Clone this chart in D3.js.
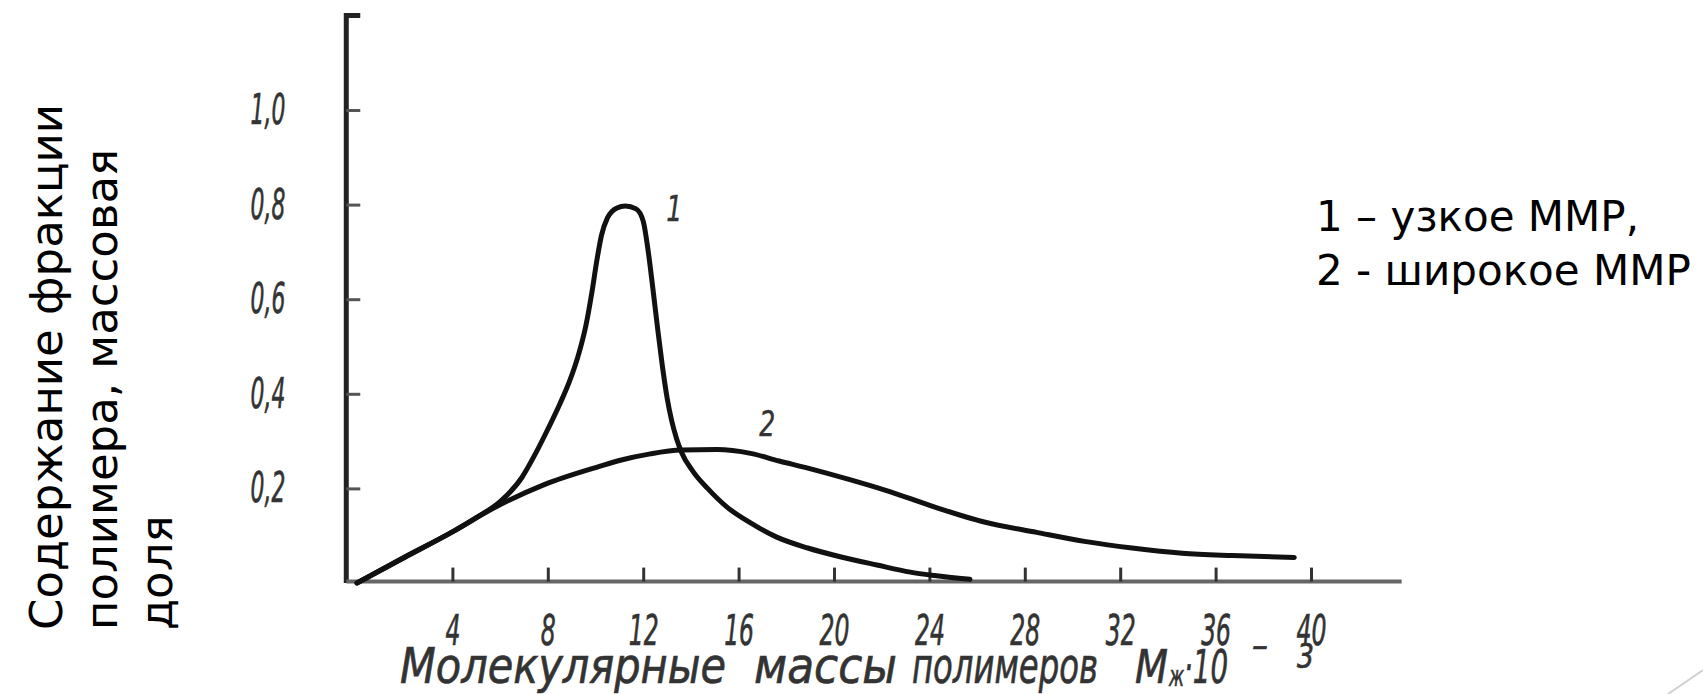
<!DOCTYPE html>
<html>
<head>
<meta charset="utf-8">
<script src="https://cdn.jsdelivr.net/npm/d3@7"></script>
<style>
  body { margin: 0; background: #fff; }
  svg { display: block; }
</style>
</head>
<body>
<svg id="chart" width="1703" height="694"></svg>
<script>
// curve 1 - narrow MWD (x: M*10^-3, y: mass fraction)
const narrowX = [0, 2, 4, 5, 6, 6.9, 7.5, 8.0, 8.5, 8.9, 9.3, 9.6, 9.85, 10.05, 10.25, 10.5, 10.9, 11.25, 11.7, 12.0, 12.2, 12.4, 12.6, 12.8, 13.0, 13.2, 13.4, 13.6, 14.1, 14.7, 15.5, 16.5, 17.6, 18.9, 20.3, 21.8, 23.2, 24.2, 25.7];
const narrowY = [0, 0.055, 0.108, 0.138, 0.172, 0.222, 0.275, 0.325, 0.378, 0.425, 0.485, 0.545, 0.615, 0.68, 0.735, 0.772, 0.793, 0.797, 0.791, 0.765, 0.705, 0.625, 0.54, 0.46, 0.392, 0.342, 0.305, 0.277, 0.235, 0.2, 0.161, 0.127, 0.097, 0.074, 0.055, 0.038, 0.023, 0.016, 0.008];

// curve 2 - broad MWD
const broadX = [0, 2, 4, 5.75, 7.8, 10.2, 11.0, 12.3, 13.6, 15.1, 16.5, 17.7, 18.9, 20.7, 22.1, 24.2, 26.3, 28.5, 30.5, 32.5, 34.6, 36.7, 39.3];
const broadY = [0, 0.054, 0.108, 0.159, 0.207, 0.247, 0.259, 0.273, 0.281, 0.282, 0.274, 0.258, 0.243, 0.218, 0.197, 0.161, 0.129, 0.107, 0.088, 0.074, 0.063, 0.058, 0.054];

const xTicks = [4, 8, 12, 16, 20, 24, 28, 32, 36, 40];
const yTicks = [0.2, 0.4, 0.6, 0.8, 1.0];
const yTitleLines = ["Содержание фракции", "полимера, массовая", "доля"];
const legendLines = ["1 – узкое ММР,", "2 - широкое ММР"];
const curveLabels = [
    { text: "1", x: 13.3, y: 0.765 },
    { text: "2", x: 17.2, y: 0.31 }
];
// x axis title pieces: text, left x, baseline y, font size, width
const xTitleParts = [
    { text: "Молекулярные", x: 400, y: 683, size: 50, w: 326 },
    { text: "массы", x: 754, y: 683, size: 50, w: 143 },
    { text: "полимеров", x: 912, y: 683, size: 50, w: 186 },
    { text: "M", x: 1135, y: 683, size: 46, w: 33 },
    { text: "ж", x: 1169, y: 686, size: 28, w: 15 },
    { text: "·10", x: 1184, y: 683, size: 46, w: 44 },
    { text: "–", x: 1252, y: 657, size: 34, w: 16 },
    { text: "3", x: 1297, y: 668, size: 34, w: 17 }
];

const svg = d3.select("#chart");
const scanFont = "'DejaVu Sans', sans-serif";
const slideFont = "'DejaVu Sans', sans-serif";
const sx = 0.52; // narrow the scanned-looking tick labels

const x = d3.scaleLinear().domain([0, 40]).range([357, 1311]);
const y = d3.scaleLinear().domain([0, 1]).range([583, 110]);

const axisX0 = x(-0.45);

// y axis line with small cap at top
svg.append("path")
    .attr("d", `M${axisX0 + 14},${y(1.2)} H${axisX0} V${y(0)}`)
    .attr("fill", "none")
    .attr("stroke", "#222")
    .attr("stroke-width", 5);

// x axis line
svg.append("line")
    .attr("x1", axisX0)
    .attr("x2", x(43.8))
    .attr("y1", y(0.003))
    .attr("y2", y(0.003))
    .attr("stroke", "#666")
    .attr("stroke-width", 4);

function scanText(sel, size) {
    sel.style("font-family", scanFont)
        .style("font-style", "italic")
        .style("font-size", size + "px")
        .attr("fill", "#333")
        .attr("stroke", "#333")
        .attr("stroke-width", 0.7);
}

const gx = svg.append("g")
    .attr("transform", `translate(0,${y(0.003)})`)
    .call(d3.axisBottom(x).tickValues(xTicks).tickSize(-14).tickSizeOuter(0).tickPadding(34));
gx.select(".domain").remove();
gx.selectAll("line").attr("stroke", "#333").attr("stroke-width", 3);
gx.selectAll("text")
    .attr("transform", `scale(0.56,1)`)
    .call(scanText, 42);

const gy = svg.append("g")
    .attr("transform", `translate(${axisX0},0)`)
    .call(d3.axisLeft(y).tickValues(yTicks).tickSize(-14).tickSizeOuter(0)
        .tickFormat(d => d3.format(".1f")(d).replace(".", ",")));
gy.select(".domain").remove();
gy.selectAll("line").attr("stroke", "#555").attr("stroke-width", 3);
gy.selectAll("text")
    .attr("x", -61 / sx)
    .attr("transform", `scale(${sx},1)`)
    .call(scanText, 42);

// curves
const line = d3.line()
    .x(d => x(d[0]))
    .y(d => y(d[1]))
    .curve(d3.curveMonotoneX);

const series = [
    d3.zip(narrowX, narrowY),
    d3.zip(broadX, broadY)
];

svg.append("g")
    .selectAll("path")
    .data(series)
    .join("path")
    .attr("d", line)
    .attr("fill", "none")
    .attr("stroke", "#111")
    .attr("stroke-width", 5)
    .attr("stroke-linejoin", "round")
    .attr("stroke-linecap", "round");

svg.append("g")
    .selectAll("text")
    .data(curveLabels)
    .join("text")
    .attr("transform", d => `translate(${x(d.x)},${y(d.y)}) scale(0.7,1)`)
    .attr("text-anchor", "middle")
    .call(scanText, 36)
    .attr("stroke-width", 0.4)
    .text(d => d.text);

// x axis title
svg.append("g")
    .selectAll("text")
    .data(xTitleParts)
    .join("text")
    .attr("x", d => d.x)
    .attr("y", d => d.y)
    .attr("textLength", d => d.w)
    .attr("lengthAdjust", "spacingAndGlyphs")
    .call(scanText, 46)
    .style("font-size", d => d.size + "px")
    .text(d => d.text);

// y axis title, rotated
svg.append("g")
    .selectAll("text")
    .data(yTitleLines)
    .join("text")
    .attr("transform", (d, i) => `translate(${62 + i * 55},630) rotate(-90)`)
    .style("font-family", slideFont)
    .style("font-size", "45px")
    .attr("fill", "#000")
    .text(d => d);

// legend text
svg.append("g")
    .selectAll("text")
    .data(legendLines)
    .join("text")
    .attr("x", 1316)
    .attr("y", (d, i) => 231 + i * 54)
    .style("font-family", slideFont)
    .style("font-size", "42px")
    .attr("fill", "#000")
    .text(d => d);

// slide decoration in the corner
svg.append("line")
    .attr("x1", 1668).attr("y1", 694)
    .attr("x2", 1703).attr("y2", 670)
    .attr("stroke", "#d0d0d0")
    .attr("stroke-width", 2);
</script>
</body>
</html>
